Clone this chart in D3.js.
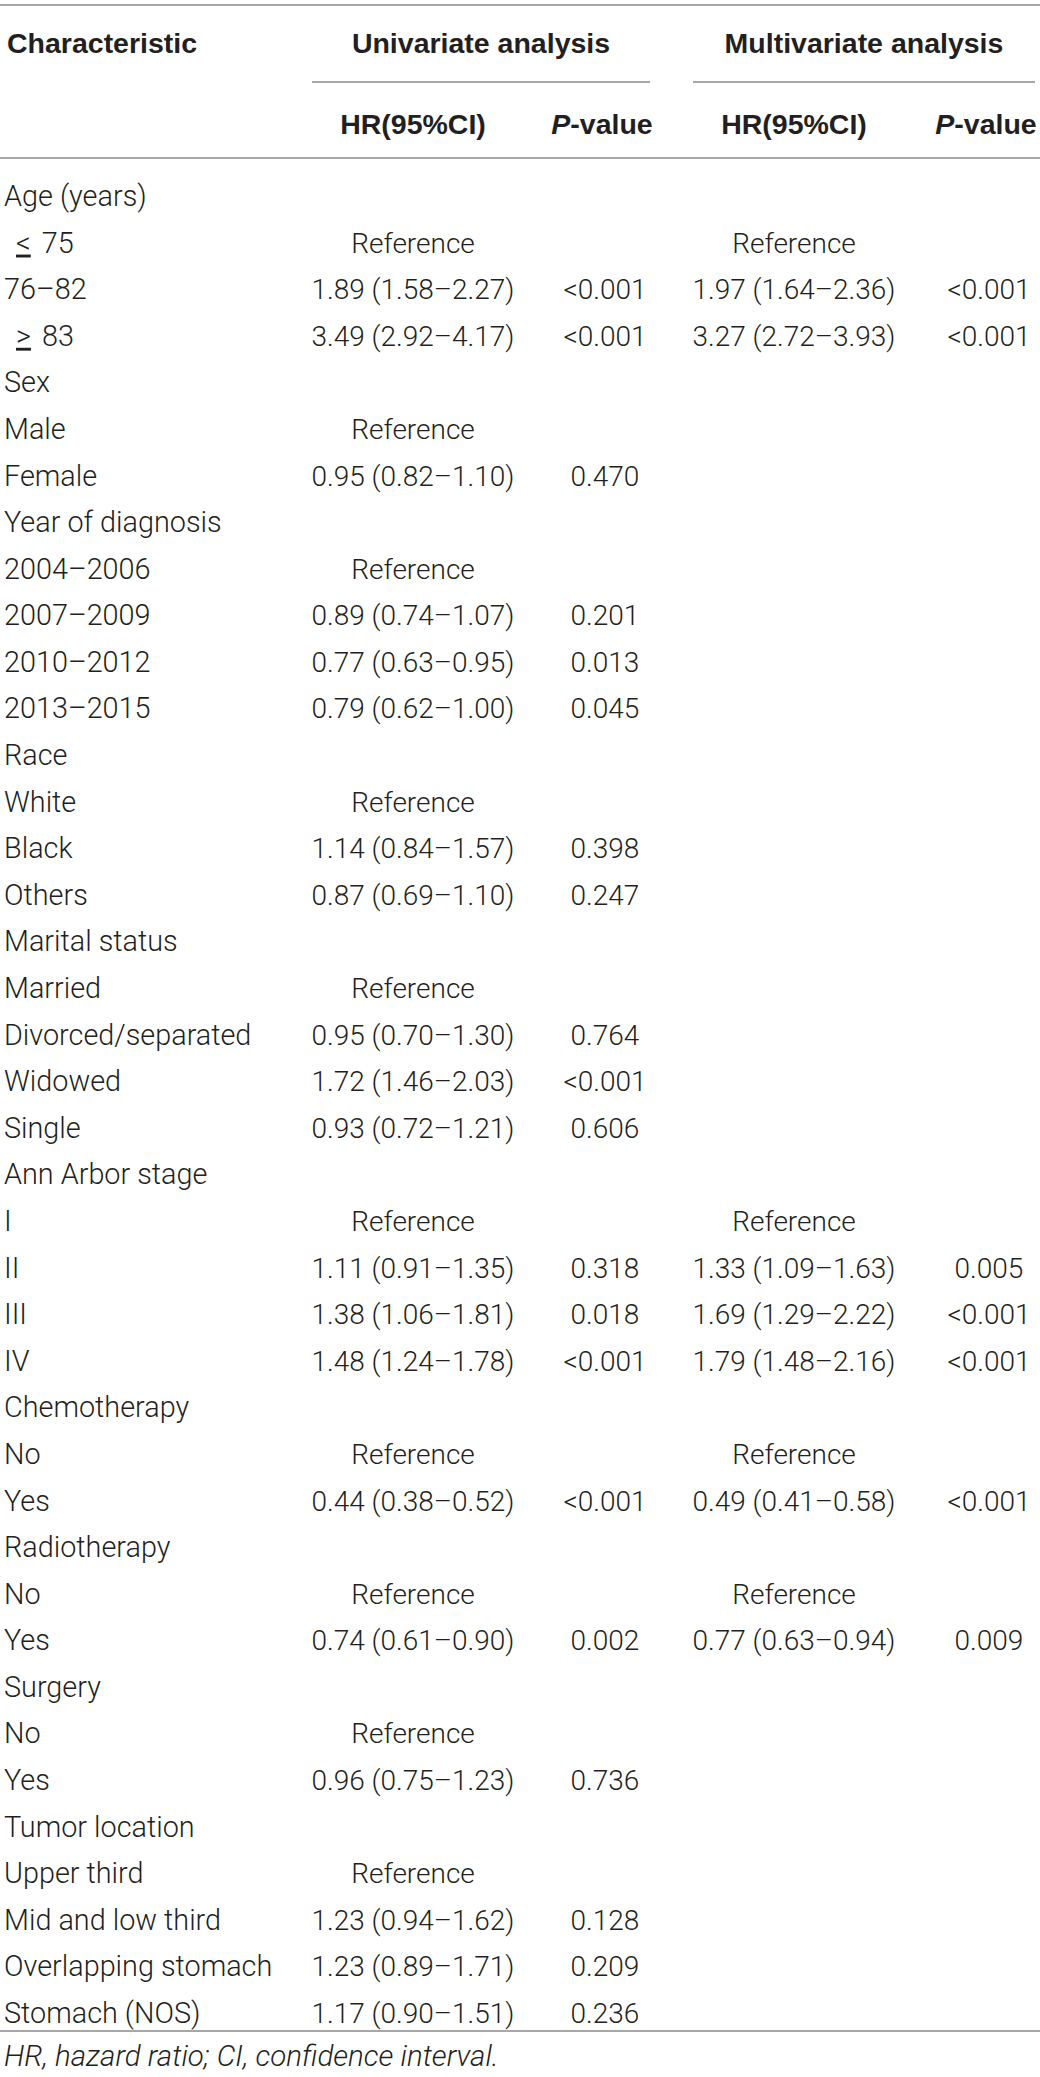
<!DOCTYPE html>
<html>
<head>
<meta charset="utf-8">
<script src="https://cdn.jsdelivr.net/npm/d3@7"></script>
<style>
  html, body { margin: 0; padding: 0; background: #fff; }
  svg text { font-family: Roboto, "Liberation Sans", Arial, sans-serif; fill: #231f20; }
  svg text.hdr { font-family: "Liberation Sans", Arial, Helvetica, sans-serif; font-weight: 700; }
</style>
</head>
<body>
<svg id="chart" width="1040" height="2077"></svg>
<script>
// ---- data ----
const characteristics = [
  "Age (years)", "≤ 75", "76–82", "≥ 83",
  "Sex", "Male", "Female",
  "Year of diagnosis", "2004–2006", "2007–2009", "2010–2012", "2013–2015",
  "Race", "White", "Black", "Others",
  "Marital status", "Married", "Divorced/separated", "Widowed", "Single",
  "Ann Arbor stage", "I", "II", "III", "IV",
  "Chemotherapy", "No", "Yes",
  "Radiotherapy", "No", "Yes",
  "Surgery", "No", "Yes",
  "Tumor location", "Upper third", "Mid and low third", "Overlapping stomach", "Stomach (NOS)"
];
const uniHR = [
  "", "Reference", "1.89 (1.58–2.27)", "3.49 (2.92–4.17)",
  "", "Reference", "0.95 (0.82–1.10)",
  "", "Reference", "0.89 (0.74–1.07)", "0.77 (0.63–0.95)", "0.79 (0.62–1.00)",
  "", "Reference", "1.14 (0.84–1.57)", "0.87 (0.69–1.10)",
  "", "Reference", "0.95 (0.70–1.30)", "1.72 (1.46–2.03)", "0.93 (0.72–1.21)",
  "", "Reference", "1.11 (0.91–1.35)", "1.38 (1.06–1.81)", "1.48 (1.24–1.78)",
  "", "Reference", "0.44 (0.38–0.52)",
  "", "Reference", "0.74 (0.61–0.90)",
  "", "Reference", "0.96 (0.75–1.23)",
  "", "Reference", "1.23 (0.94–1.62)", "1.23 (0.89–1.71)", "1.17 (0.90–1.51)"
];
const uniP = [
  "", "", "<0.001", "<0.001",
  "", "", "0.470",
  "", "", "0.201", "0.013", "0.045",
  "", "", "0.398", "0.247",
  "", "", "0.764", "<0.001", "0.606",
  "", "", "0.318", "0.018", "<0.001",
  "", "", "<0.001",
  "", "", "0.002",
  "", "", "0.736",
  "", "", "0.128", "0.209", "0.236"
];
const multiHR = [
  "", "Reference", "1.97 (1.64–2.36)", "3.27 (2.72–3.93)",
  "", "", "",
  "", "", "", "", "",
  "", "", "", "",
  "", "", "", "", "",
  "", "Reference", "1.33 (1.09–1.63)", "1.69 (1.29–2.22)", "1.79 (1.48–2.16)",
  "", "Reference", "0.49 (0.41–0.58)",
  "", "Reference", "0.77 (0.63–0.94)",
  "", "", "",
  "", "", "", "", ""
];
const multiP = [
  "", "", "<0.001", "<0.001",
  "", "", "",
  "", "", "", "", "",
  "", "", "", "",
  "", "", "", "", "",
  "", "", "0.005", "<0.001", "<0.001",
  "", "", "<0.001",
  "", "", "0.009",
  "", "", "",
  "", "", "", "", ""
];
const groupHeaders = ["Univariate analysis", "Multivariate analysis"];
const columnHeaders = ["HR(95%CI)", "P-value", "HR(95%CI)", "P-value"];
const footnote = "HR, hazard ratio; CI, confidence interval.";

// ---- layout ----
const W = 1040;
const svg = d3.select("#chart");
const fs = 28;
const lfs = 28.8;
const hfs = 28.5;
const lineColor = "#8a8a8a";

const y = d3.scalePoint().domain(d3.range(characteristics.length)).range([196, 2013]);
const colKeys = ["uniHR", "uniP", "multiHR", "multiP"];
const x = d3.scaleOrdinal().domain(colKeys).range([413, 605, 794, 989]);
const groupX = d3.scaleOrdinal().domain(groupHeaders).range([481, 864]);

// rules
const rules = [
  { x1: 0, x2: W, y: 5 },
  { x1: 312, x2: 650, y: 82 },
  { x1: 693, x2: 1035, y: 82 },
  { x1: 0, x2: W, y: 158 },
  { x1: 0, x2: W, y: 2031 }
];
svg.selectAll("line.rule").data(rules).join("line")
  .attr("class", "rule")
  .attr("x1", d => d.x1).attr("x2", d => d.x2)
  .attr("y1", d => d.y).attr("y2", d => d.y)
  .attr("stroke", lineColor).attr("stroke-width", 1.6);

// header
svg.append("text").attr("class", "hdr").attr("x", 7).attr("y", 53)
  .attr("font-size", hfs).text("Characteristic");
svg.selectAll("text.group").data(groupHeaders).join("text")
  .attr("class", "group hdr")
  .attr("x", d => groupX(d)).attr("y", 53)
  .attr("text-anchor", "middle").attr("font-size", hfs)
  .text(d => d);
const ch = svg.selectAll("text.colh").data(columnHeaders).join("text")
  .attr("class", "colh hdr")
  .attr("x", (d, i) => x(colKeys[i]) - (i % 2 ? 3 : 0)).attr("y", 134)
  .attr("text-anchor", "middle").attr("font-size", hfs);
ch.each(function(d) {
  const t = d3.select(this);
  if (d.startsWith("P-")) {
    t.append("tspan").attr("font-style", "italic").text("P");
    t.append("tspan").text(d.slice(1));
  } else {
    t.text(d);
  }
});

// body rows
const rows = characteristics.map((c, i) => ({
  i, c, uniHR: uniHR[i], uniP: uniP[i], multiHR: multiHR[i], multiP: multiP[i]
}));
const g = svg.selectAll("g.row").data(rows).join("g")
  .attr("class", "row")
  .attr("transform", d => `translate(0,${y(d.i) + 10})`);
g.append("text").attr("x", 4).attr("font-size", lfs).attr("font-weight", 300)
  .each(function(d) {
    const t = d3.select(this);
    const m = d.c.match(/^([≤≥])\s*(.*)$/);
    if (m) {
      // drawn as "<" / ">" with an underline, as in the source table
      t.append("tspan").attr("dx", 12).attr("text-decoration", "underline")
        .text(m[1] === "≤" ? "<" : ">");
      t.append("tspan").attr("dx", 11).text(m[2]);
    } else {
      t.text(d.c);
    }
  });
colKeys.forEach(k => {
  g.append("text").attr("x", x(k)).attr("text-anchor", "middle")
    .attr("font-size", fs).attr("font-weight", 300)
    .text(d => d[k]);
});

// footnote
svg.append("text").attr("x", 4).attr("y", 2066)
  .attr("font-size", 29.5).attr("font-weight", 300).attr("font-style", "italic")
  .text(footnote);
</script>
</body>
</html>
